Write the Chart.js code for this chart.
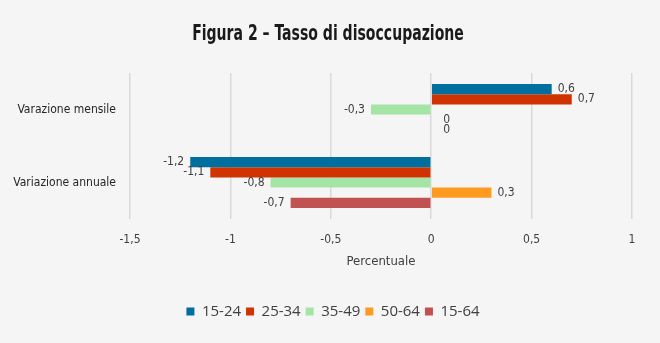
<!DOCTYPE html>
<html>
<head>
<meta charset="utf-8">
<script src="https://cdn.jsdelivr.net/npm/chart.js@4/dist/chart.umd.min.js"></script>
<style>
  html, body { margin: 0; padding: 0; background: #f5f5f5; }
  #wrap { width: 660px; height: 343px; position: relative; }
</style>
</head>
<body>
<div id="wrap"><canvas id="chart"></canvas></div>
<script>
// data
const chartTitle = "Figura 2 – Tasso di disoccupazione";
const categories = ["Varazione mensile", "Variazione annuale"];
const seriesNames = ["15-24", "25-34", "35-49", "50-64", "15-64"];
const seriesColors = ["#006f9f", "#d03300", "#a4e4a4", "#ff9a20", "#c05252"];
const values1524 = [0.6, -1.2];
const values2534 = [0.7, -1.1];
const values3549 = [-0.3, -0.8];
const values5064 = [0, 0.3];
const values1564 = [0, -0.7];
const tickValues = [-1.5, -1, -0.5, 0, 0.5, 1];

const allValues = [values1524, values2534, values3549, values5064, values1564];

function itNum(v) {
  return String(Math.round(v * 10) / 10).replace(".", ",");
}

const narrow = '"DejaVu Sans Condensed", sans-serif';

// condensed title, squeezed horizontally
const squeezedTitle = {
  id: "squeezedTitle",
  afterDraw(chart) {
    const ctx = chart.ctx;
    ctx.save();
    ctx.font = "bold 22px " + narrow;
    ctx.fillStyle = "#1a1a1a";
    ctx.textAlign = "center";
    ctx.textBaseline = "middle";
    ctx.translate(chart.width / 2 - 2, 34);
    ctx.scale(0.71, 1);
    ctx.fillText(chartTitle, 0, 0);
    ctx.restore();
  }
};

// data labels drawn next to bar ends
const barLabels = {
  id: "barLabels",
  afterDatasetsDraw(chart) {
    const ctx = chart.ctx;
    ctx.save();
    ctx.font = "12px " + narrow;
    ctx.fillStyle = "#404040";
    ctx.textBaseline = "middle";
    chart.data.datasets.forEach((ds, i) => {
      const meta = chart.getDatasetMeta(i);
      meta.data.forEach((bar, j) => {
        const v = ds.data[j];
        if (v < 0) {
          ctx.textAlign = "right";
          ctx.fillText(itNum(v), bar.x - 6, bar.y);
        } else {
          ctx.textAlign = "left";
          ctx.fillText(itNum(v), bar.x + (v === 0 ? 12 : 6), bar.y);
        }
      });
    });
    ctx.restore();
  }
};

const ctx = document.getElementById("chart").getContext("2d");
const chart = new Chart(ctx, {
  type: "bar",
  data: {
    labels: categories,
    datasets: seriesNames.map((name, i) => ({
      label: name,
      data: allValues[i],
      backgroundColor: seriesColors[i],
      borderWidth: 0,
      categoryPercentage: 0.7,
      barPercentage: 1.0,
    })),
  },
  options: {
    indexAxis: "y",
    responsive: true,
    maintainAspectRatio: false,
    animation: false,
    layout: { padding: { left: 6, right: 0, top: 73, bottom: 14 } },
    scales: {
      x: {
        min: -1.5,
        max: 1,
        afterBuildTicks(scale) {
          scale.ticks = tickValues.map(v => ({ value: v }));
        },
        grid: { color: "#d9d9d9", lineWidth: 1.5, drawTicks: false },
        border: { display: false },
        ticks: {
          padding: 14,
          color: "#404040",
          font: { size: 12, family: narrow },
          callback: v => itNum(v),
        },
        title: {
          display: true,
          text: "Percentuale",
          color: "#404040",
          font: { size: 13, family: narrow },
          padding: { top: -8, bottom: 30 },
        },
      },
      y: {
        grid: { display: false, drawTicks: false },
        border: { display: false },
        afterFit(scale) { scale.width = 124; },
        ticks: {
          padding: 14,
          color: "#262626",
          font: { size: 12, family: narrow },
        },
      },
      // empty right margin, keeps the legend centred on the page
      yRight: {
        axis: "y",
        type: "category",
        position: "right",
        grid: { display: false, drawTicks: false },
        border: { display: false },
        ticks: { display: false },
        afterFit(scale) { scale.width = 28; },
      },
    },
    plugins: {
      title: { display: false },
      legend: {
        position: "bottom",
        labels: {
          boxWidth: 8,
          boxHeight: 8,
          padding: 5,
          color: "#404040",
          font: { size: 15, family: '"Open Sans", sans-serif' },
        },
      },
      tooltip: { enabled: false },
    },
  },
  plugins: [barLabels, squeezedTitle],
});
</script>
</body>
</html>
